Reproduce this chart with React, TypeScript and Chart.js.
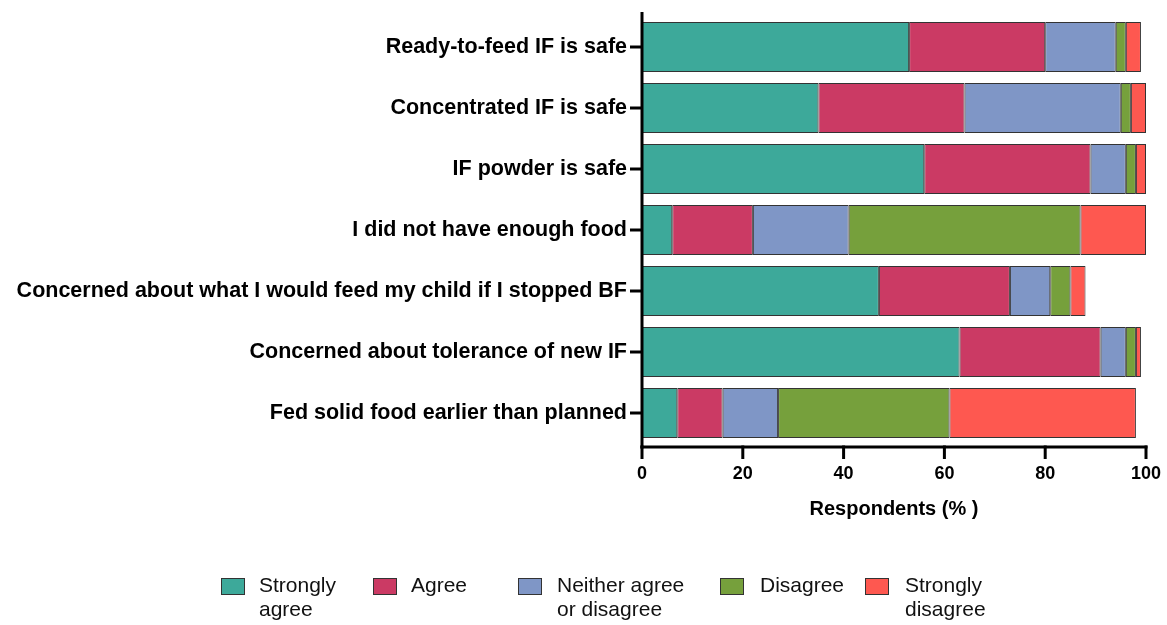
import React, { useEffect, useRef } from "react";
import { Chart, registerables } from "chart.js";

Chart.register(...registerables);

const categories = [
  "Ready-to-feed IF is safe",
  "Concentrated IF is safe",
  "IF powder is safe",
  "I did not have enough food",
  "Concerned about what I would feed my child if I stopped BF",
  "Concerned about tolerance of new IF",
  "Fed solid food earlier than planned",
];

const seriesNames = [
  "Strongly agree",
  "Agree",
  "Neither agree or disagree",
  "Disagree",
  "Strongly disagree",
];

const legendLines = [
  ["Strongly", "agree"],
  ["Agree"],
  ["Neither agree", "or disagree"],
  ["Disagree"],
  ["Strongly", "disagree"],
];

const stronglyAgree = [53, 35, 56, 6, 47, 63, 7];
const agree = [27, 29, 33, 16, 26, 28, 9];
const neither = [14, 31, 7, 19, 8, 5, 11];
const disagree = [2, 2, 2, 46, 4, 2, 34];
const stronglyDisagree = [3, 3, 2, 13, 3, 1, 37];

const seriesValues = [stronglyAgree, agree, neither, disagree, stronglyDisagree];
const seriesColors = ["#3DA99A", "#CB3A64", "#7F96C6", "#76A03C", "#FE5850"];

const xMin = 0;
const xMax = 100;
const xStep = 20;
const xTitle = "Respondents (% )";

const FONT = "'Liberation Sans', Arial, Helvetica, sans-serif";

// Legend layout (box left, text left) in page pixels
const legendBoxLeft = [221, 373, 518, 720, 865];
const legendTextLeft = [259, 411, 557, 760, 905];

const axisPlugin = {
  id: "prismAxes",
  afterDatasetsDraw(chart: any) {
    const { ctx, chartArea, scales } = chart;
    const xs = scales.x;
    const ys = scales.y;
    const left = chartArea.left;
    const axisY = chartArea.bottom + 3.5;
    ctx.save();
    ctx.strokeStyle = "#000";
    ctx.lineWidth = 3;
    ctx.lineCap = "butt";
    // y axis line
    ctx.beginPath();
    ctx.moveTo(left, chartArea.top - 4.5);
    ctx.lineTo(left, axisY + 1.5);
    ctx.stroke();
    // y ticks
    categories.forEach((_, i) => {
      const y = ys.getPixelForValue(i);
      ctx.beginPath();
      ctx.moveTo(left - 12, y);
      ctx.lineTo(left, y);
      ctx.stroke();
    });
    // x axis line
    ctx.beginPath();
    ctx.moveTo(left - 1.5, axisY);
    ctx.lineTo(chartArea.right + 1.5, axisY);
    ctx.stroke();
    // x ticks
    xs.ticks.forEach((t: any) => {
      const x = xs.getPixelForValue(t.value);
      ctx.beginPath();
      ctx.moveTo(x, axisY - 1.5);
      ctx.lineTo(x, axisY + 12);
      ctx.stroke();
    });
    ctx.restore();
  },
};

export default function App() {
  const canvasRef = useRef<HTMLCanvasElement | null>(null);

  useEffect(() => {
    if (!canvasRef.current) return;
    const chart = new Chart(canvasRef.current, {
      type: "bar",
      data: {
        labels: categories,
        datasets: seriesNames.map((name, i) => ({
          label: name,
          data: seriesValues[i],
          backgroundColor: seriesColors[i],
          borderColor: "#333333",
          borderWidth: 1,
          borderSkipped: false,
          barPercentage: 0.82,
          categoryPercentage: 1,
        })),
      },
      options: {
        indexAxis: "y",
        animation: false,
        responsive: true,
        maintainAspectRatio: false,
        layout: {
          padding: { left: 0, right: 21, top: 16.5, bottom: 104 },
        },
        plugins: {
          legend: { display: false },
          tooltip: { enabled: false },
        },
        scales: {
          x: {
            type: "linear",
            stacked: true,
            min: xMin,
            max: xMax,
            grid: { display: false, drawTicks: false },
            border: { display: false },
            ticks: {
              stepSize: xStep,
              padding: 20,
              color: "#000",
              font: { family: FONT, size: 18, weight: "bold" },
            },
            title: {
              display: true,
              text: xTitle,
              color: "#000",
              padding: 0,
              font: { family: FONT, size: 20, weight: "bold" },
            },
            afterFit(scale: any) {
              scale.height = 77.5;
              scale.paddingLeft = 0;
              scale.paddingRight = 0;
            },
          },
          y: {
            type: "category",
            stacked: true,
            grid: { display: false, drawTicks: false },
            border: { display: false },
            ticks: {
              autoSkip: false,
              padding: 15,
              color: "#000",
              font: { family: FONT, size: 21.5, weight: "bold" },
            },
            afterFit(scale: any) {
              scale.width = 642;
              scale.paddingTop = 0;
              scale.paddingBottom = 0;
            },
          },
        },
      },
      plugins: [axisPlugin],
    } as any);
    return () => chart.destroy();
  }, []);

  return (
    <div
      style={{
        position: "fixed",
        left: 0,
        top: 0,
        width: 1167,
        height: 625,
        background: "#fff",
        overflow: "hidden",
      }}
    >
      <canvas ref={canvasRef} />
      {seriesNames.map((name, i) => (
        <React.Fragment key={name}>
          <div
            style={{
              position: "absolute",
              left: legendBoxLeft[i],
              top: 578,
              width: 24,
              height: 17,
              boxSizing: "border-box",
              background: seriesColors[i],
              border: "1px solid #333",
            }}
          />
          <div
            style={{
              position: "absolute",
              left: legendTextLeft[i],
              top: 573,
              fontFamily: FONT,
              fontSize: 21,
              lineHeight: "24px",
              color: "#111",
              whiteSpace: "nowrap",
            }}
          >
            {legendLines[i].map((line) => (
              <div key={line}>{line}</div>
            ))}
          </div>
        </React.Fragment>
      ))}
    </div>
  );
}
